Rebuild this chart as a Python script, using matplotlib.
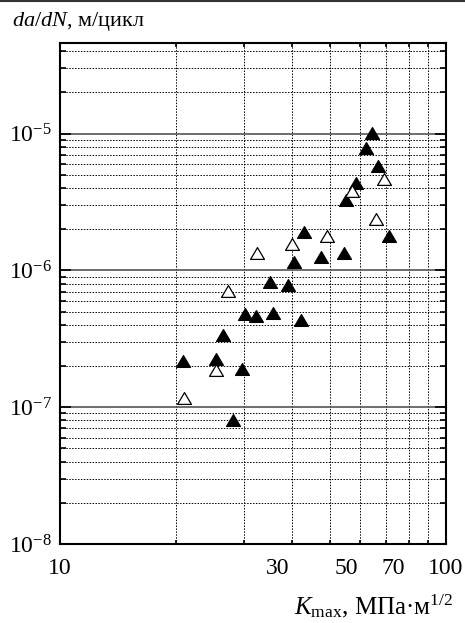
import matplotlib
matplotlib.use('Agg')
import matplotlib.pyplot as plt
from matplotlib.ticker import LogLocator, NullFormatter, LogFormatterMathtext
from matplotlib.lines import Line2D
from matplotlib.path import Path

plt.rcParams['font.family'] = ['Liberation Serif', 'DejaVu Serif']
plt.rcParams['mathtext.fontset'] = 'custom'
plt.rcParams['mathtext.rm'] = 'Liberation Serif'
plt.rcParams['mathtext.it'] = 'Liberation Serif:italic'
plt.rcParams['mathtext.bf'] = 'Liberation Serif:bold'

# ---- data ----
k_filled = [20.8, 25.4, 26.4, 29.7, 28.1, 30.2, 32.1, 35.7, 35.1, 39.0, 42.0,
            40.4, 42.9, 47.4, 54.4, 55.2, 58.4, 62.2, 64.3, 66.7, 71.2]
v_filled = [2.18e-7, 2.24e-7, 3.38e-7, 1.91e-7, 8.07e-8, 4.79e-7, 4.68e-7, 4.9e-7,
            8.18e-7, 7.88e-7, 4.35e-7, 1.16e-6, 1.92e-6, 1.26e-6, 1.35e-6, 3.25e-6,
            4.35e-6, 7.88e-6, 1.01e-5, 5.79e-6, 1.80e-6]
k_open = [20.9, 25.4, 27.3, 32.3, 39.8, 49.1, 57.1, 65.9, 69.2]
v_open = [1.16e-7, 1.87e-7, 7.06e-7, 1.34e-6, 1.56e-6, 1.79e-6, 3.84e-6, 2.37e-6, 4.68e-6]

x_tick_labels = ['10', '30', '50', '70', '100']
x_tick_label_pos = [10, 36.7, 55.3, 73.0, 100]

# ---- figure ----
fig = plt.figure(figsize=(4.65, 6.23), dpi=100)
ax = fig.add_axes([60/465, 1-544/623, 386/465, 501/623])
ax.set_xscale('log')
ax.set_yscale('log')
ax.set_xlim(10, 100)
ax.set_ylim(1e-8, 4.6e-5)

tri = Path([(-1, -0.85), (1, -0.85), (0, 0.85), (-1, -0.85)], closed=True)

ax.plot(k_filled, v_filled, linestyle='none', marker=tri, ms=10,
        mfc='black', mec='black', mew=0.9, zorder=5, clip_on=False)
ax.plot(k_open, v_open, linestyle='none', marker=tri, ms=10,
        mfc='white', mec='black', mew=0.9, zorder=5, clip_on=False)

ax.yaxis.set_major_locator(LogLocator(base=10, numticks=12))
ax.yaxis.set_minor_locator(LogLocator(base=10, subs=range(2, 10), numticks=40))
ax.yaxis.set_major_formatter(LogFormatterMathtext())
ax.yaxis.set_minor_formatter(NullFormatter())
ax.xaxis.set_major_locator(LogLocator(base=10, numticks=12))
ax.xaxis.set_minor_locator(LogLocator(base=10, subs=range(2, 10), numticks=40))
ax.xaxis.set_minor_formatter(NullFormatter())

ax.tick_params(axis='y', which='major', direction='in', length=8, width=1.2,
               left=True, right=True, pad=6, labelsize=17)
ax.tick_params(axis='y', which='minor', direction='in', length=4.5, width=1.2,
               left=True, right=True)
ax.tick_params(axis='x', which='both', direction='in', length=3, width=1.2,
               top=True, bottom=True, labelbottom=False)

ax.grid(True, which='major', axis='y', color='#555555', lw=1.2, ls='-')
ax.grid(True, which='minor', axis='y', color='black', lw=0.7, ls=(0, (1.5, 1.5)))
ax.grid(True, which='minor', axis='x', color='black', lw=0.7, ls=(0, (1.5, 1.5)))
ax.set_axisbelow(True)

for s in ax.spines.values():
    s.set_linewidth(1.5)

for lab, pos in zip(x_tick_labels, x_tick_label_pos):
    ax.text(pos, -0.048, lab, transform=ax.get_xaxis_transform(),
            ha='center', va='center', fontsize=17)

fig.text(12/465, 1-26/623, r'$\mathit{da/dN}$, м/цикл', ha='left',
         va='baseline', fontsize=16)
fig.text(453/465, 1-614/623, r'$K_{\mathrm{max}}$, МПа·м$^{1/2}$', ha='right',
         va='baseline', fontsize=18)

fig.add_artist(Line2D([0, 1], [1-1/623, 1-1/623], color='#333333', lw=1.5,
                      transform=fig.transFigure))

fig.savefig('out.png', dpi=100)
